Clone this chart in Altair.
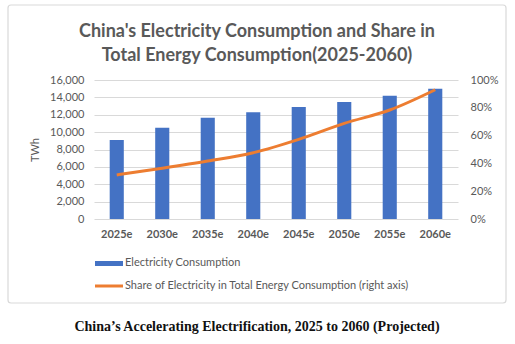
import altair as alt
import pandas as pd

years = ["2025e", "2030e", "2035e", "2040e", "2045e", "2050e", "2055e", "2060e"]
consumption_twh = [9100, 10500, 11650, 12300, 12900, 13480, 14200, 14980]
electricity_share = [0.317, 0.365, 0.417, 0.477, 0.573, 0.688, 0.784, 0.93]

title_lines = ["China's Electricity Consumption and Share in", "Total Energy Consumption(2025-2060)"]
legend_labels = ["Electricity Consumption", "Share of Electricity in Total Energy Consumption (right axis)"]
caption = "China\u2019s Accelerating Electrification, 2025 to 2060 (Projected)"
y_ticks = [0, 2000, 4000, 6000, 8000, 10000, 12000, 14000, 16000]
share_ticks = [0, 0.2, 0.4, 0.6, 0.8, 1.0]

BLUE = "#4472C4"
ORANGE = "#ED7D31"
GRAY = "#595959"
FONT = "Lato"

df = pd.DataFrame({"year": years, "twh": consumption_twh, "share": electricity_share})
one = pd.DataFrame({"k": [0]})

x_enc = alt.X("year:N", sort=years, title=None,
              scale=alt.Scale(paddingInner=0.69, paddingOuter=0.345),
              axis=alt.Axis(domain=False, ticks=False, labelAngle=0, labelPadding=9,
                            labelFontWeight="bold", labelColor=GRAY, labelFontSize=11, labelFont=FONT))

bars = alt.Chart(df).mark_bar(color=BLUE).encode(
    x=x_enc,
    y=alt.Y("twh:Q", title="TWh", scale=alt.Scale(domain=[0, 16000]),
            axis=alt.Axis(values=y_ticks, format=",.0f", domain=False, ticks=False, labelPadding=10,
                          grid=True, gridColor="#d9d9d9", labelColor=GRAY, labelFontSize=11, labelFont=FONT,
                          titleColor=GRAY, titleFontSize=11, titleFont=FONT, titleFontWeight="normal",
                          titlePadding=9)),
)

line = alt.Chart(df).mark_line(color=ORANGE, strokeWidth=3, interpolate="monotone").encode(
    x=alt.X("year:N", sort=years),
    y=alt.Y("share:Q", title=None, scale=alt.Scale(domain=[0, 1]),
            axis=alt.Axis(orient="right", values=share_ticks, format=".0%", domain=False, ticks=False,
                          grid=False, labelPadding=12, labelColor=GRAY, labelFontSize=11, labelFont=FONT)),
)

border = alt.Chart(one).mark_rect(fillOpacity=0, stroke="#d9d9d9", strokeWidth=1.2, cornerRadius=3).encode(
    x=alt.value(-86), x2=alt.value(412), y=alt.value(-75), y2=alt.value(223)
)

leg_rect = alt.Chart(one).mark_rect(color=BLUE).encode(
    x=alt.value(1), x2=alt.value(29), y=alt.value(181), y2=alt.value(186)
)
leg_line = alt.Chart(one).mark_rule(color=ORANGE, strokeWidth=3).encode(
    x=alt.value(1), x2=alt.value(29), y=alt.value(206)
)
leg_text1 = alt.Chart(one).mark_text(text=legend_labels[0], align="left", baseline="middle",
                                     font=FONT, fontSize=11, color=GRAY).encode(
    x=alt.value(31), y=alt.value(183)
)
leg_text2 = alt.Chart(one).mark_text(text=legend_labels[1], align="left", baseline="middle",
                                     font=FONT, fontSize=11, color=GRAY).encode(
    x=alt.value(31), y=alt.value(206)
)
cap = alt.Chart(one).mark_text(text=caption, align="center", baseline="middle",
                               font="Liberation Serif", fontSize=14, fontWeight="bold", color="#111111").encode(
    x=alt.value(163), y=alt.value(247)
)

chart = alt.layer(border, bars, line, leg_rect, leg_line, leg_text1, leg_text2, cap).resolve_scale(
    y="independent"
).properties(
    width=364, height=139,
    autosize=alt.AutoSizeParams(type="none"),
    padding={"left": 94, "top": 80, "right": 57, "bottom": 125},
    title=alt.TitleParams(text=title_lines, font=FONT, fontSize=18, fontWeight="bold", color=GRAY,
                          anchor="middle", dx=-19, dy=69, lineHeight=24, offset=8),
).configure_view(stroke=None)

chart.save("out.html", embed_options={"renderer": "svg", "actions": False})
